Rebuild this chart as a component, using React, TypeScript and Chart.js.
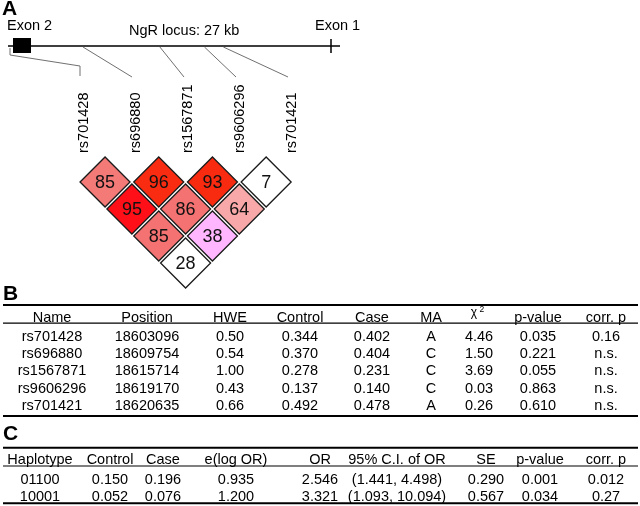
import React, { useEffect, useRef } from "react";
import { Chart, registerables } from "chart.js";

Chart.register(...registerables);

// ---------- data ----------
const snpNames = ["rs701428", "rs696880", "rs1567871", "rs9606296", "rs701421"];
const snpPositions = [18603096, 18609754, 18615714, 18619170, 18620635];
const hwe = ["0.50", "0.54", "1.00", "0.43", "0.66"];
const controlFreq = ["0.344", "0.370", "0.278", "0.137", "0.492"];
const caseFreq = ["0.402", "0.404", "0.231", "0.140", "0.478"];
const minorAllele = ["A", "C", "C", "C", "A"];
const chiSquare = ["4.46", "1.50", "3.69", "0.03", "0.26"];
const pValues = ["0.035", "0.221", "0.055", "0.863", "0.610"];
const corrP = ["0.16", "n.s.", "n.s.", "n.s.", "n.s."];
const tableBHeaders = ["Name", "Position", "HWE", "Control", "Case", "MA", "χ2", "p-value", "corr. p"];

// pairwise LD (D' x 100)
const ldFirst = [0, 1, 2, 3, 0, 1, 2, 0, 1, 0];
const ldSecond = [1, 2, 3, 4, 2, 3, 4, 3, 4, 4];
const ldValues = [85, 96, 93, 7, 95, 86, 64, 85, 38, 28];
const ldColors = ["#F47A78", "#F92C12", "#F82A10", "#FFFFFF", "#FF1018", "#F47272", "#F8A8A8", "#F47272", "#FFB6FF", "#FFFFFF"];

const haplotypes = ["01100", "10001"];
const hapControl = ["0.150", "0.052"];
const hapCase = ["0.196", "0.076"];
const hapELogOR = ["0.935", "1.200"];
const hapOR = ["2.546", "3.321"];
const hapCI = ["(1.441, 4.498)", "(1.093, 10.094)"];
const hapSE = ["0.290", "0.567"];
const hapP = ["0.001", "0.034"];
const hapCorrP = ["0.012", "0.27"];
const tableCHeaders = ["Haplotype", "Control", "Case", "e(log OR)", "OR", "95% C.I. of OR", "SE", "p-value", "corr. p"];

const locusLabel = "NgR locus: 27 kb";

// ---------- layout ----------
const FONT = '"Liberation Sans", Arial, Helvetica, sans-serif';
const colsB = [52, 147, 230, 300, 372, 431, 474, 538, 606];
const colsC = [40, 110, 163, 236, 320, 397, 486, 540, 606];

export default function App() {
  const ref = useRef<HTMLCanvasElement>(null);

  useEffect(() => {
    const canvas = ref.current;
    if (!canvas) return;

    const overlay = {
      id: "figureOverlay",
      beforeDatasetsDraw(chart: any) {
        const ctx = chart.ctx as CanvasRenderingContext2D;
        const X = (v: number) => chart.scales.x.getPixelForValue(v);
        const Y = (v: number) => chart.scales.y.getPixelForValue(v);
        const G = (v: number) => chart.scales.xg.getPixelForValue(v);
        ctx.save();
        ctx.fillStyle = "#000";
        ctx.textBaseline = "alphabetic";
        ctx.font = `bold 21px ${FONT}`;
        ctx.textAlign = "left";
        ctx.fillText("A", X(2), Y(15));
        ctx.font = `14.5px ${FONT}`;
        ctx.fillText("Exon 2", X(7), Y(30));
        ctx.fillText(locusLabel, X(129), Y(35));
        ctx.fillText("Exon 1", X(315), Y(30));
        ctx.strokeStyle = "#000";
        ctx.lineWidth = 1.5;
        ctx.beginPath();
        ctx.moveTo(X(8), Y(46));
        ctx.lineTo(X(340), Y(46));
        ctx.moveTo(X(331), Y(39));
        ctx.lineTo(X(331), Y(53));
        ctx.stroke();
        ctx.fillRect(X(13), Y(38), X(31) - X(13), Y(53) - Y(38));
        ctx.strokeStyle = "#606060";
        ctx.lineWidth = 0.9;
        snpNames.forEach((_, i) => {
          const labelX = 88 + 52 * i;
          const bx = X(labelX - 8);
          const raw = G(snpPositions[i]);
          ctx.beginPath();
          if (raw < X(10)) {
            ctx.moveTo(X(10), Y(48));
            ctx.lineTo(X(10), Y(55));
            ctx.lineTo(bx, Y(66));
            ctx.lineTo(bx, Y(76));
          } else {
            ctx.moveTo(raw, Y(47));
            ctx.lineTo(bx, Y(77));
          }
          ctx.stroke();
        });
        ctx.font = `14.5px ${FONT}`;
        ctx.textAlign = "left";
        snpNames.forEach((name, i) => {
          const labelX = 88 + 52 * i;
          ctx.save();
          ctx.translate(X(labelX), Y(153));
          ctx.rotate(-Math.PI / 2);
          ctx.fillText(name, 0, 0);
          ctx.restore();
        });
        ctx.restore();
      },
      afterDatasetsDraw(chart: any) {
        const ctx = chart.ctx as CanvasRenderingContext2D;
        const X = (v: number) => chart.scales.x.getPixelForValue(v);
        const Y = (v: number) => chart.scales.y.getPixelForValue(v);
        const XL = (v: number) => chart.scales.xl.getPixelForValue(v);
        const YL = (v: number) => chart.scales.yl.getPixelForValue(v);
        ctx.save();
        ctx.fillStyle = "#111";
        ctx.font = `18px ${FONT}`;
        ctx.textAlign = "center";
        ctx.textBaseline = "alphabetic";
        ldValues.forEach((v, k) => {
          const cx = XL((ldFirst[k] + ldSecond[k]) / 2);
          const cy = YL(ldSecond[k] - ldFirst[k]);
          ctx.fillText(String(v), cx, cy + 6);
        });

        const hline = (y: number, w: number) => {
          ctx.lineWidth = w;
          ctx.strokeStyle = "#000";
          ctx.beginPath();
          ctx.moveTo(X(3), Y(y));
          ctx.lineTo(X(638), Y(y));
          ctx.stroke();
        };

        ctx.fillStyle = "#000";
        ctx.font = `bold 21px ${FONT}`;
        ctx.textAlign = "left";
        ctx.fillText("B", X(3), Y(300));
        hline(305, 2);
        hline(323.2, 1.2);
        hline(416, 2);
        ctx.font = `14.5px ${FONT}`;
        ctx.textAlign = "center";
        tableBHeaders.forEach((h, c) => {
          if (h === "χ2") {
            ctx.font = `12px ${FONT}`;
            ctx.fillText("χ", X(colsB[c]), Y(316));
            ctx.font = `8.5px ${FONT}`;
            ctx.textAlign = "left";
            ctx.fillText("2", X(colsB[c] + 5.5), Y(312));
            ctx.textAlign = "center";
            ctx.font = `14.5px ${FONT}`;
          } else {
            ctx.fillText(h, X(colsB[c]), Y(322));
          }
        });
        const bCols = [
          snpNames,
          snpPositions.map(String),
          hwe,
          controlFreq,
          caseFreq,
          minorAllele,
          chiSquare,
          pValues,
          corrP,
        ];
        snpNames.forEach((_, r) => {
          const by = 340.5 + 17.4 * r;
          bCols.forEach((col, c) => {
            const cx = c === 6 ? colsB[c] + 5 : colsB[c];
            ctx.fillText(col[r], X(cx), Y(by));
          });
        });

        ctx.font = `bold 21px ${FONT}`;
        ctx.textAlign = "left";
        ctx.fillText("C", X(3), Y(440));
        hline(447.7, 2);
        hline(466, 1.2);
        hline(503.3, 2);
        ctx.font = `14.5px ${FONT}`;
        ctx.textAlign = "center";
        tableCHeaders.forEach((h, c) => ctx.fillText(h, X(colsC[c]), Y(464)));
        const cCols = [haplotypes, hapControl, hapCase, hapELogOR, hapOR, hapCI, hapSE, hapP, hapCorrP];
        haplotypes.forEach((_, r) => {
          const by = 484 + 17 * r;
          cCols.forEach((col, c) => ctx.fillText(col[r], X(colsC[c]), Y(by)));
        });
        ctx.restore();
      },
    };

    const chart = new Chart(canvas, {
      type: "scatter",
      data: {
        datasets: [
          {
            label: "LD",
            xAxisID: "xl",
            yAxisID: "yl",
            data: ldValues.map((_, k) => ({
              x: (ldFirst[k] + ldSecond[k]) / 2,
              y: ldSecond[k] - ldFirst[k],
            })),
            pointStyle: "rectRot",
            pointRadius: 25,
            pointHoverRadius: 25,
            backgroundColor: ldColors,
            borderColor: "#1a1a1a",
            borderWidth: 1.3,
            clip: false,
          } as any,
        ],
      },
      options: {
        animation: false,
        responsive: false,
        events: [],
        layout: { padding: 0, autoPadding: false },
        plugins: { legend: { display: false }, tooltip: { enabled: false } },
        scales: {
          x: { type: "linear", display: false, min: 0, max: 640, bounds: "data" },
          y: { type: "linear", display: false, min: 0, max: 506, reverse: true, bounds: "data" },
          xl: { type: "linear", axis: "x", display: false, min: -1.4562, max: 10.462, bounds: "data" },
          yl: { type: "linear", axis: "y", display: false, min: -5.7407, max: 13.0, reverse: true, bounds: "data" },
          xg: { type: "linear", axis: "x", display: false, min: 18603320, max: 18652932, bounds: "data" },
        } as any,
      },
      plugins: [overlay],
    });
    return () => chart.destroy();
  }, []);

  return (
    <div style={{ position: "absolute", left: 0, top: 0, width: 640, height: 506, background: "#fff" }}>
      <canvas ref={ref} width={640} height={506} style={{ display: "block" }} />
    </div>
  );
}
